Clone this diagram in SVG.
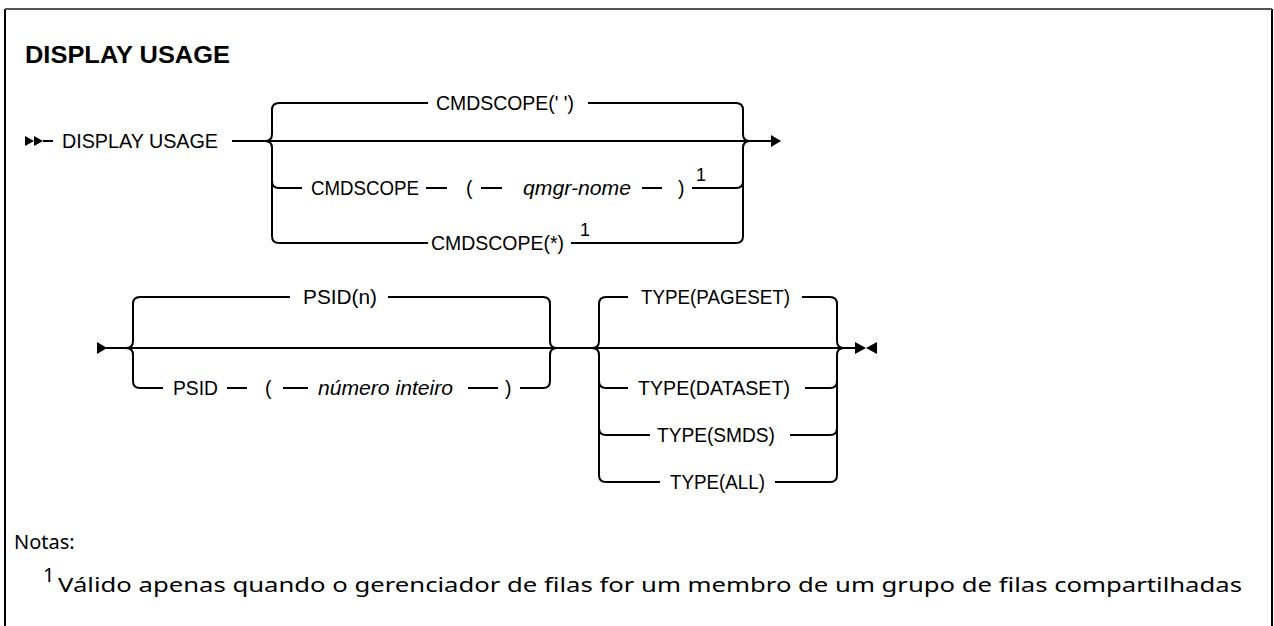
<svg xmlns="http://www.w3.org/2000/svg" width="1274" height="626" viewBox="0 0 1274 626">
<style>
.t{font-family:"Liberation Sans",Arial,sans-serif;font-size:19.5px;fill:#000}
.i{font-style:italic}
.sup{font-family:"Liberation Sans",Arial,sans-serif;font-size:18px;fill:#000}
.c{fill:none;stroke:#000;stroke-width:2}
.n{font-family:"Noto Sans","Open Sans",sans-serif;font-size:20px;fill:#000}
</style>
<rect width="1274" height="626" fill="#fff"/>
<path d="M5 626 V9 M1272 9 V626" fill="none" stroke="#000" stroke-width="2"/>
<path d="M5 9 H1272" fill="none" stroke="#555" stroke-width="2"/>
<text x="25" y="63" font-family="Liberation Sans,Arial,sans-serif" font-size="23.5" font-weight="bold" textLength="205" lengthAdjust="spacingAndGlyphs">DISPLAY USAGE</text>
<g id="connectors">
<polygon points="25,136 34,141 25,146"/>
<polygon points="34,136 43,141 34,146"/>
<path class="c" d="M43 141 H53"/>
<path class="c" d="M232 141 H772"/>
<polygon points="771,135 781,141 771,147"/>
<path class="c" d="M265 141 Q272 141 272 134 V110 Q272 103 279 103 H428"/>
<path class="c" d="M265 141 Q272 141 272 148 V236 Q272 243 279 243 H428"/>
<path class="c" d="M272 181 Q272 188 279 188 H302"/>
<path class="c" d="M426 188 H447 M481 188 H502 M642 188 H662"/>
<path class="c" d="M588 103 H736 Q743 103 743 110 V134 Q743 141 750 141"/>
<path class="c" d="M571 243 H736 Q743 243 743 236 V148 Q743 141 750 141"/>
<path class="c" d="M692 188 H736 Q743 188 743 181"/>
<polygon points="97,342 107,348 97,354"/>
<path class="c" d="M106 348 H856"/>
<path class="c" d="M126 348 Q133 348 133 341 V304 Q133 297 140 297 H290"/>
<path class="c" d="M126 348 Q133 348 133 355 V381 Q133 388 140 388 H163"/>
<path class="c" d="M227 388 H247 M283 388 H308 M468 388 H498"/>
<path class="c" d="M388 297 H543 Q550 297 550 304 V341 Q550 348 557 348"/>
<path class="c" d="M520 388 H543 Q550 388 550 381 V355 Q550 348 557 348"/>
<path class="c" d="M592 348 Q599 348 599 341 V304 Q599 297 606 297 H628"/>
<path class="c" d="M592 348 Q599 348 599 355 V475 Q599 482 606 482 H660"/>
<path class="c" d="M599 381 Q599 388 606 388 H628"/>
<path class="c" d="M599 428 Q599 435 606 435 H650"/>
<path class="c" d="M802 297 H830 Q837 297 837 304 V341 Q837 348 844 348"/>
<path class="c" d="M775 482 H830 Q837 482 837 475 V355 Q837 348 844 348"/>
<path class="c" d="M805 388 H830 Q837 388 837 381"/>
<path class="c" d="M790 435 H830 Q837 435 837 428"/>
<polygon points="855,342 866,348 855,354"/>
<polygon points="877,342 866,348 877,354"/>
</g>
<g id="start1"><text class="t" x="62" y="148" textLength="156" lengthAdjust="spacingAndGlyphs">DISPLAY USAGE</text></g>
<g id="cmdscope-blank"><text class="t" x="436" y="110" textLength="138" lengthAdjust="spacingAndGlyphs">CMDSCOPE(' ')</text></g>
<g id="cmdscope-qmgr">
<text class="t" x="311" y="195" textLength="108" lengthAdjust="spacingAndGlyphs">CMDSCOPE</text>
<text class="t" x="466" y="195">(</text>
<text class="t i" x="523" y="195" textLength="108" lengthAdjust="spacingAndGlyphs">qmgr-nome</text>
<text class="t" x="678" y="195">)</text>
<text class="sup" x="696" y="181">1</text>
</g>
<g id="cmdscope-star">
<text class="t" x="431" y="250" textLength="133" lengthAdjust="spacingAndGlyphs">CMDSCOPE(*)</text>
<text class="sup" x="580" y="236">1</text>
</g>
<g id="psid-n"><text class="t" x="303" y="304" textLength="74" lengthAdjust="spacingAndGlyphs">PSID(n)</text></g>
<g id="psid-int">
<text class="t" x="173" y="395" textLength="45" lengthAdjust="spacingAndGlyphs">PSID</text>
<text class="t" x="265" y="395">(</text>
<text class="t i" x="318" y="395" textLength="135" lengthAdjust="spacingAndGlyphs">número inteiro</text>
<text class="t" x="505" y="395">)</text>
</g>
<g id="type-pageset"><text class="t" x="641" y="304" textLength="149" lengthAdjust="spacingAndGlyphs">TYPE(PAGESET)</text></g>
<g id="type-dataset"><text class="t" x="638" y="395" textLength="152" lengthAdjust="spacingAndGlyphs">TYPE(DATASET)</text></g>
<g id="type-smds"><text class="t" x="657" y="442" textLength="118" lengthAdjust="spacingAndGlyphs">TYPE(SMDS)</text></g>
<g id="type-all"><text class="t" x="670" y="489" textLength="95" lengthAdjust="spacingAndGlyphs">TYPE(ALL)</text></g>
<g id="notes">
<text class="n" x="14" y="549">Notas:</text>
<text class="n" x="43" y="582" font-size="15">1</text>
<text class="n" x="58" y="592" textLength="1184" lengthAdjust="spacingAndGlyphs">Válido apenas quando o gerenciador de filas for um membro de um grupo de filas compartilhadas</text>
</g>
</svg>
